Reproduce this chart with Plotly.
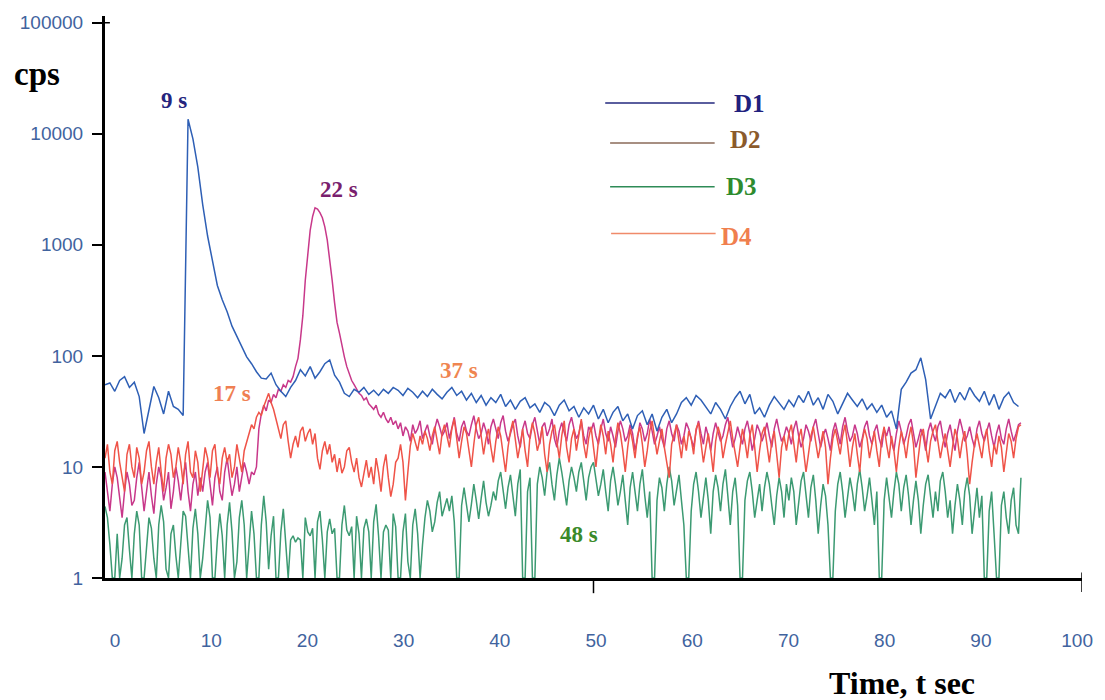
import plotly.graph_objects as go

# Two sampling grids: D1 logged every 0.5 s, the other detectors every 0.25 s (0 .. ~94 s)
COARSE_STEP = 0.5
FINE_STEP = 0.25

# Detector count rates (cps); each row covers 10 s
D1_CPS = [
    55, 57, 48, 60, 65, 52, 58, 43, 20, 32, 53, 42, 30, 48, 35, 33, 29, 13500, 9000, 5000,
    2300, 1200, 700, 430, 320, 250, 185, 150, 120, 98, 85, 72, 63, 62, 70, 55, 48, 43, 52, 60,
    75, 66, 80, 63, 72, 85, 92, 67, 58, 46, 43, 50, 47, 52, 45, 49, 44, 50, 46, 52,
    49, 44, 51, 47, 42, 48, 43, 50, 45, 41, 47, 52, 44, 48, 40, 46, 38, 44, 36, 42,
    38, 45, 35, 40, 33, 39, 42, 34, 37, 31, 38, 35, 29, 36, 40, 32, 35, 28, 34, 30,
    36, 27, 33, 25, 31, 35, 26, 30, 22, 29, 32, 24, 30, 21, 28, 33, 25, 30, 38, 42,
    36, 44, 40, 35, 30, 38, 33, 27, 35, 42, 48, 37, 45, 30, 34, 28, 36, 43, 38, 33,
    40, 35, 44, 38, 48, 36, 42, 33, 45, 39, 30, 37, 46, 40, 35, 41, 33, 37, 31, 36,
    28, 32, 22, 50, 58, 70, 75, 96, 61, 27, 35, 46, 42, 50, 38, 47, 40, 52, 44, 39,
    48, 36, 45, 33, 42, 47, 38, 35,
]

D2_CPS = [
    9, 6, 4, 7, 10, 8, 5, 3.5, 6, 9, 7, 4.5, 5, 8, 11, 7, 4, 6, 9, 5.5,
    3.8, 7, 10, 8, 5, 6.5, 9, 4.2, 6, 10, 7.5, 5, 8, 11, 6, 4, 7, 9, 5.5, 8,
    6, 9, 11, 7, 4.5, 8, 10, 6, 5, 9, 12, 8, 5.5, 7, 10, 6, 8, 11, 9, 7,
    9, 8.5, 10, 22, 30, 36, 32, 40, 38, 45, 42, 50, 48, 55, 52, 60, 58, 65, 80, 95,
    140, 230, 480, 850, 1350, 1800, 2150, 2100, 1950, 1750, 1450, 1100, 750, 480, 300, 200, 160, 120, 98, 80,
    68, 60, 55, 50, 46, 44, 40, 42, 37, 35, 33, 36, 30, 28, 31, 27, 25, 28, 24, 26,
    22, 25, 19, 23, 21, 17, 24, 20, 22, 26, 18, 21, 24, 19, 16, 22, 27, 23, 19, 21,
    25, 18, 22, 28, 20, 17, 23, 26, 21, 19, 24, 29, 22, 18, 20, 25, 21, 16, 23, 27,
    22, 18, 25, 29, 21, 17, 20, 24, 27, 19, 15, 22, 26, 20, 18, 24, 28, 21, 16, 23,
    25, 19, 22, 27, 18, 15, 21, 25, 20, 17, 24, 28, 22, 18, 20, 26, 19, 16, 23, 21,
    25, 19, 16, 22, 27, 20, 17, 23, 19, 15, 21, 26, 22, 17, 19, 24, 20, 14, 18, 25,
    22, 17, 20, 27, 21, 16, 19, 23, 18, 15, 22, 26, 20, 17, 24, 21, 16, 19, 25, 22,
    18, 15, 21, 26, 20, 16, 23, 19, 14, 20, 25, 21, 17, 19, 24, 28, 20, 15, 18, 23,
    19, 16, 22, 26, 20, 14, 18, 24, 21, 17, 20, 25, 19, 15, 22, 27, 21, 17, 19, 23,
    20, 16, 22, 26, 19, 15, 18, 24, 21, 17, 23, 27, 20, 15, 19, 22, 18, 14, 21, 25,
    20, 16, 23, 28, 21, 17, 19, 24, 20, 15, 18, 23, 26, 19, 16, 21, 24, 18, 15, 22,
    19, 23, 17, 14, 20, 26, 21, 16, 19, 24, 27, 20, 15, 18, 22, 19, 14, 21, 25, 20,
    17, 23, 26, 19, 15, 20, 24, 18, 14, 21, 27, 22, 17, 19, 23, 18, 15, 22, 26, 20,
    17, 21, 25, 19, 15, 20, 24, 18, 16, 22, 27, 21, 17, 20, 24, 25,
]

D3_CPS = [
    4.4, 3.5, 2, 1, 1, 2.5, 1, 1.5, 3, 3.5, 1.8, 1, 2.5, 4, 3, 1, 1, 2, 3.5, 2.8,
    1.5, 1, 3, 4.5, 3.2, 1.2, 1, 2.5, 3, 1.6, 1, 2, 4, 3.6, 2, 1, 2.8, 4.2, 2.5, 1,
    1.5, 3, 5, 3.5, 1, 1, 2.2, 3.8, 2.4, 1, 3, 4.8, 2.6, 1, 1.4, 3.5, 5, 3, 1, 2,
    4, 2.5, 1, 1, 3, 5.5, 3.2, 1.2, 2.4, 3.6, 1, 1, 2.6, 4.2, 2, 1, 2.2, 2.4, 2.1, 2.3,
    2.2, 1, 3.5, 2.6, 2.4, 2.8, 1, 3.2, 4, 2.2, 1, 2.6, 3.4, 2.5, 2.8, 1, 1, 3, 4.5, 2.7,
    2.4, 2.9, 1, 3.6, 2.5, 1, 2.8, 3.4, 2.6, 1, 3.2, 4.6, 2.4, 1, 2.6, 3, 2.7, 1, 3.8, 2.9,
    1, 1, 2.6, 3.8, 1.4, 1, 3, 4.2, 2.5, 1, 2, 3.5, 5, 4, 2.6, 3.2, 4.8, 6, 3.6, 4.4,
    5.2, 4, 5.5, 3.2, 1, 1, 4.5, 6.5, 4.4, 3.2, 4.6, 7, 5, 3.4, 5.2, 7.5, 4.8, 3.6, 4.5, 6,
    5, 7.5, 9, 6, 4.2, 6.5, 8.5, 5.5, 3.6, 7, 9.5, 1, 1, 6, 8, 1, 1, 7, 10, 8,
    5.5, 9, 11, 7, 5, 8.5, 12, 9, 6, 4.5, 7.5, 10, 8, 6, 9, 11, 7.5, 5, 8, 10,
    11, 8, 5.5, 7, 9.5, 6, 4, 7.5, 10, 7, 4.5, 6, 8.5, 5, 3, 6.5, 9, 6, 4, 7,
    9.5, 5.5, 3.5, 6, 1, 1, 5, 8, 6.5, 4, 7, 10, 7.5, 4.5, 6, 8.5, 5, 3, 1, 1,
    4, 7, 9, 6, 3.5, 5.5, 8, 5, 2.5, 6, 8.5, 6.5, 4, 7, 9.5, 5.5, 3, 6, 8, 4.5,
    1, 1, 5, 7.5, 9, 6, 3.5, 5, 7, 4, 6.5, 9, 7, 4.5, 3, 5.5, 8, 6, 3.5, 7,
    5, 8, 6, 3, 4.5, 7.5, 9, 5.5, 3.5, 6.5, 8.5, 5, 2.5, 4.5, 7, 5.5, 3, 1, 1, 4,
    7, 9, 6, 3.5, 5.5, 8, 6, 4, 7, 9.5, 6.5, 4, 5.5, 8, 5, 3, 6, 1, 1, 5,
    8, 5, 3.5, 6, 9, 7, 4, 6.5, 8.5, 5.5, 3, 5, 7.5, 5, 2.5, 4.5, 7, 8.5, 5.5, 3.5,
    6, 4, 7.5, 9, 6, 3.5, 5, 2.5, 4.5, 7, 5, 3, 6, 8, 5.5, 2.5, 4, 6.5, 3.5, 5.5,
    1, 1, 4, 6, 2.5, 1, 1, 4.5, 6, 3.5, 2.5, 5, 6.5, 3, 2.5, 8,
]

D4_CPS = [
    12, 16, 9, 7, 14, 17, 11, 8, 6, 13, 16, 10, 8, 15, 12, 7, 9, 14, 17, 10,
    7, 11, 15, 9, 6, 12, 16, 13, 8, 10, 15, 11, 7, 13, 17, 9, 8, 14, 11, 6,
    10, 15, 12, 8, 14, 16, 9, 7, 12, 15, 11, 13, 8, 10, 16, 12, 9, 14, 17, 20,
    24, 22, 28, 31, 29, 35, 40, 46, 38, 33, 27, 22, 18, 24, 26, 17, 12, 16, 19, 15,
    21, 23, 17, 20, 22, 16, 20, 12, 9.5, 14, 17, 13, 16, 11, 13, 9, 12, 8.8, 10, 14,
    15, 11, 9, 12, 8, 6.6, 9, 11.5, 8, 10, 7, 12, 9, 6, 10, 13, 8, 5.4, 7, 11,
    12, 16, 11, 5, 9, 15.5, 20, 17, 14, 19, 16, 21, 18, 14, 19, 23, 17, 13, 20, 24,
    19, 15, 22, 27, 18, 12, 17, 23, 20, 14, 10, 16, 24, 28, 19, 13, 18, 22, 15, 11,
    17, 23, 19, 13, 9, 15, 21, 26, 18, 12, 16, 22, 14, 10, 19, 25, 20, 14, 17, 23,
    13, 9, 16, 21, 24, 17, 12, 19, 26, 15, 11, 18, 22, 14, 20, 27, 16, 12, 18, 23,
    15, 10, 17, 24, 19, 13, 21, 16, 11, 18, 25, 20, 14, 9, 15, 22, 17, 12, 19, 23,
    16, 10, 14, 21, 26, 18, 13, 17, 22, 15, 11, 8, 16, 20, 24, 17, 12, 19, 14, 21,
    18, 13, 22, 25, 16, 11, 15, 20, 14, 9, 17, 23, 19, 12, 16, 21, 26, 18, 13, 10,
    15, 22, 17, 12, 19, 24, 15, 9, 14, 20, 23, 16, 11, 17, 21, 13, 8, 15, 19, 14,
    20, 24, 16, 11, 18, 22, 14, 9, 13, 19, 23, 17, 12, 16, 21, 15, 7, 12, 18, 22,
    17, 13, 19, 24, 16, 10, 15, 20, 13, 9, 17, 22, 18, 12, 16, 21, 14, 10, 18, 23,
    16, 12, 19, 14, 9, 15, 21, 17, 12, 18, 23, 16, 8, 13, 19, 22, 15, 11, 17, 21,
    24, 17, 12, 16, 20, 14, 10, 15, 22, 18, 12, 17, 21, 13, 7, 11, 16, 20, 15, 12,
    18, 22, 14, 10, 16, 13, 19, 15, 9, 14, 20, 17, 12, 18, 23, 24,
]

SERIES = {"D1": D1_CPS, "D2": D2_CPS, "D3": D3_CPS, "D4": D4_CPS}
SERIES_STEP = {"D1": COARSE_STEP, "D2": FINE_STEP, "D3": FINE_STEP, "D4": FINE_STEP}
LINE_COLORS = {"D1": "#2e5fb5", "D2": "#c8388a", "D3": "#3c9a72", "D4": "#ef5348"}
KEY_LINE_COLORS = {"D1": "#23287e", "D2": "#8a6a58", "D3": "#2e8b57", "D4": "#f08a6a"}
KEY_TEXT_COLORS = {"D1": "#20207e", "D2": "#8b5a2b", "D3": "#2e8b2e", "D4": "#f07f4e"}

X_TICKS = [0, 10, 20, 30, 40, 50, 60, 70, 80, 90, 100]
Y_TICKS = [1, 10, 100, 1000, 10000, 100000]
Y_TICK_TEXT = ["1", "10", "100", "1000", "10000", "100000"]

# Peak labels: text, time (s), log10(cps), colour
PEAK_LABELS = [
    ("9 s", 7.1, 4.30, "#25257e"),
    ("22 s", 24.0, 3.50, "#7a1f6e"),
    ("17 s", 13.0, 1.66, "#ef7f52"),
    ("37 s", 36.2, 1.87, "#ef8550"),
    ("48 s", 48.5, 0.39, "#3a8a2a"),
]

fig = go.Figure()
for name in ["D3", "D2", "D4", "D1"]:
    vals = SERIES[name]
    step = SERIES_STEP[name]
    times = [i * step for i in range(len(vals))]
    fig.add_trace(go.Scatter(
        x=times, y=vals, mode="lines", name=name,
        line=dict(color=LINE_COLORS[name], width=1.5),
        showlegend=False,
    ))
# Empty trace that carries the separate time-label axis
fig.add_trace(go.Scatter(x=[], y=[], xaxis="x2", yaxis="y", showlegend=False,
                         hoverinfo="skip"))

serif = "Liberation Serif, Times New Roman, serif"
sans = "Liberation Sans, Arial, sans-serif"
tick_blue = "#41639e"

annotations = []
for text, x, ly, color in PEAK_LABELS:
    annotations.append(dict(
        text=f"<b>{text}</b>", x=x, y=ly, xref="x", yref="y",
        xanchor="center", yanchor="middle",
        showarrow=False, font=dict(family=serif, size=23, color=color),
    ))

# Key: line from x0 to x1 at height yl, label centred at (xt, yt)
key_rows = [("D1", 51.2, 62.4, 0.845, 66.0, 0.845),
            ("D2", 51.7, 62.4, 0.774, 65.6, 0.780),
            ("D3", 51.7, 62.4, 0.696, 65.1, 0.696),
            ("D4", 51.8, 62.5, 0.613, 64.6, 0.607)]
shapes = []
for name, x0, x1, yl, xt, yt in key_rows:
    shapes.append(dict(type="line", xref="x", yref="paper", x0=x0, x1=x1, y0=yl, y1=yl,
                       line=dict(color=KEY_LINE_COLORS[name], width=1.5)))
    annotations.append(dict(
        text=f"<b>{name}</b>", x=xt, y=yt, xref="x", yref="paper",
        xanchor="center", yanchor="middle",
        showarrow=False, font=dict(family=serif, size=25, color=KEY_TEXT_COLORS[name]),
    ))

# Tick marks on the time axis at 50 and 100
shapes.append(dict(type="line", xref="x", yref="paper", x0=50, x1=50, y0=0, y1=-0.027,
                   line=dict(color="black", width=1.5)))
shapes.append(dict(type="line", xref="x", yref="paper", x0=100, x1=100, y0=0.01, y1=-0.025,
                   line=dict(color="black", width=1.5)))
# Cross mark at the top of the count axis
shapes.append(dict(type="line", xref="paper", yref="paper", x0=-0.01, x1=0.005,
                   y0=0.988, y1=0.988, line=dict(color="black", width=1.5)))

annotations.append(dict(text="<b>cps</b>", x=-0.0694, y=0.897, xref="paper", yref="paper",
                        xanchor="center", yanchor="middle",
                        showarrow=False, font=dict(family=serif, size=33, color="black")))
annotations.append(dict(text="<b>Time, t sec</b>", x=0.816, y=-0.187, xref="paper", yref="paper",
                        xanchor="center", yanchor="middle",
                        showarrow=False, font=dict(family=serif, size=32, color="black")))

fig.update_layout(
    width=1105, height=700,
    margin=dict(l=105, r=20, t=15, b=122),
    paper_bgcolor="white", plot_bgcolor="white",
    annotations=annotations, shapes=shapes,
    xaxis=dict(
        range=[0, 100], showticklabels=False, ticks="", showgrid=False, zeroline=False,
        showline=True, linecolor="black", linewidth=3,
    ),
    # Time labels sit on their own, slightly compressed scale below the axis line
    xaxis2=dict(
        overlaying="x", anchor="y", side="bottom", range=[-1.04, 100.51],
        tickvals=X_TICKS, ticks="", showgrid=False, zeroline=False, showline=False,
        tickfont=dict(family=sans, size=19, color=tick_blue), ticklabelstandoff=49,
    ),
    yaxis=dict(
        type="log", range=[0, 5.06], tickvals=Y_TICKS, ticktext=Y_TICK_TEXT,
        ticks="outside", ticklen=10, tickwidth=1.5, tickcolor="black",
        showgrid=False, zeroline=False, showline=True, linecolor="black", linewidth=3,
        tickfont=dict(family=sans, size=19, color=tick_blue), ticklabelstandoff=5,
    ),
)

fig.write_html("out.html")
